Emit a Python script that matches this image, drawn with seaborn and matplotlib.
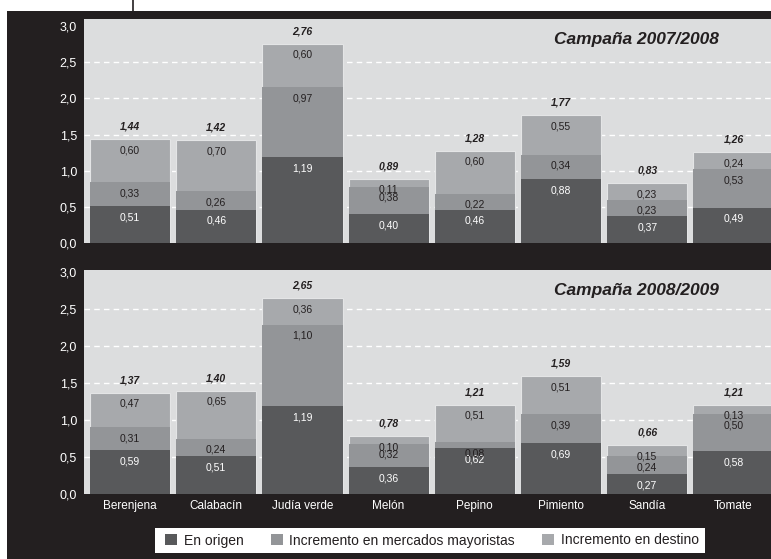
import numpy as np
import matplotlib.pyplot as plt
import seaborn as sns
from matplotlib.patches import Patch, Rectangle
from matplotlib.lines import Line2D

sns.set_theme(style="white")
plt.rcParams['font.family'] = ['Liberation Sans', 'DejaVu Sans']

# Datos (euros/kg)
productos = ['Berenjena', 'Calabacín', 'Judía verde', 'Melón',
             'Pepino', 'Pimiento', 'Sandía', 'Tomate']

origen_0708 = [0.51, 0.46, 1.19, 0.40, 0.46, 0.88, 0.37, 0.49]
mayor_0708 = [0.33, 0.26, 0.97, 0.38, 0.22, 0.34, 0.23, 0.53]
destino_0708 = [0.60, 0.70, 0.60, 0.11, 0.60, 0.55, 0.23, 0.24]
total_0708 = [1.44, 1.42, 2.76, 0.89, 1.28, 1.77, 0.83, 1.26]

origen_0809 = [0.59, 0.51, 1.19, 0.36, 0.62, 0.69, 0.27, 0.58]
mayor_0809 = [0.31, 0.24, 1.10, 0.32, 0.08, 0.39, 0.24, 0.50]
destino_0809 = [0.47, 0.65, 0.36, 0.10, 0.51, 0.51, 0.15, 0.13]
total_0809 = [1.37, 1.40, 2.65, 0.78, 1.21, 1.59, 0.66, 1.21]

series = ['En origen', 'Incremento en mercados mayoristas', 'Incremento en destino']
yticks = [0.0, 0.5, 1.0, 1.5, 2.0, 2.5, 3.0]

c_dark = '#58595b'
c_mid = '#939598'
c_light = '#a7a9ac'
c_bg = '#dcddde'
c_black = '#231f20'


def fmt(v, dec=2):
    return f"{v:.{dec}f}".replace('.', ',')


fig = plt.figure(figsize=(7.71, 5.59), dpi=100)
fig.patch.set_facecolor('white')
fig.patches.append(Rectangle((7 / 771, 0), 1, 548 / 559, transform=fig.transFigure,
                             facecolor=c_black, edgecolor='none', zorder=-10))
# caja blanca de la leyenda
fig.patches.append(Rectangle((155 / 771, 1 - 553 / 559), 550 / 771, 25 / 559,
                             transform=fig.transFigure, facecolor='white',
                             edgecolor='none', zorder=-5))
fig.add_artist(Line2D([133 / 771, 133 / 771], [548 / 559, 1], color=c_black, lw=1.2))

ax1 = fig.add_axes([84 / 771, 1 - 243 / 559, 687 / 771, 224 / 559])
ax2 = fig.add_axes([84 / 771, 1 - 494 / 559, 687 / 771, 224 / 559])


def panel(ax, origen, mayor, destino, total, titulo, ymax, show_x):
    ax.set_facecolor(c_bg)
    for y in yticks[1:-1]:
        ax.axhline(y, color='white', lw=1, ls=(0, (4, 3)), zorder=0.5)

    base = np.array(origen)
    medio = base + np.array(mayor)
    alto = medio + np.array(destino)

    sns.barplot(x=productos, y=alto, color=c_light, saturation=1, width=0.93,
                edgecolor='#e4e5e6', linewidth=0.8, ax=ax, zorder=2)
    sns.barplot(x=productos, y=medio, color=c_mid, saturation=1, width=0.93,
                linewidth=0, ax=ax, zorder=3)
    sns.barplot(x=productos, y=base, color=c_dark, saturation=1, width=0.93,
                linewidth=0, ax=ax, zorder=4)

    for i in range(len(productos)):
        ax.annotate(fmt(origen[i]), (i, base[i]), xytext=(0, -8), textcoords='offset points',
                    ha='center', va='center', color='white', fontsize=7.5, zorder=6)
        ax.annotate(fmt(mayor[i]), (i, medio[i]), xytext=(0, -8), textcoords='offset points',
                    ha='center', va='center', color=c_black, fontsize=7.5, zorder=6)
        ax.annotate(fmt(destino[i]), (i, alto[i]), xytext=(0, -8), textcoords='offset points',
                    ha='center', va='center', color=c_black, fontsize=7.5, zorder=6)
        ax.annotate(fmt(total[i]), (i, alto[i]), xytext=(0, 9), textcoords='offset points',
                    ha='center', va='center', color=c_black, fontsize=7.5,
                    fontweight='bold', fontstyle='italic', zorder=6)

    ax.text(0.924, 0.908, titulo, transform=ax.transAxes, ha='right', va='center',
            fontsize=12.5, fontweight='bold', fontstyle='italic', color=c_black)

    ax.set_ylim(0, ymax)
    ax.set_xlim(-0.534, 7.436)
    ax.set_yticks(yticks)
    ax.set_yticklabels([fmt(v, 1) for v in yticks], color='white', fontsize=9)
    ax.set_xlabel('')
    ax.set_ylabel('')
    if show_x:
        ax.set_xticks(range(len(productos)))
        ax.set_xticklabels(productos, color='white', fontsize=8.5)
    else:
        ax.set_xticklabels([])
    ax.tick_params(length=0, pad=5)
    ax.tick_params(axis='x', pad=4)
    for s in ax.spines.values():
        s.set_visible(False)


panel(ax1, origen_0708, mayor_0708, destino_0708, total_0708, 'Campaña 2007/2008', 3.1, False)
panel(ax2, origen_0809, mayor_0809, destino_0809, total_0809, 'Campaña 2008/2009', 3.03, True)

handles = [Patch(facecolor=c, edgecolor='none', label=l)
           for c, l in zip([c_dark, c_mid, c_light], series)]
leg = fig.legend(handles=handles, ncol=3, loc='center', bbox_to_anchor=(432 / 771, 1 - 540.5 / 559),
                 frameon=False, fontsize=10, handlelength=0.85, handleheight=0.85,
                 handletextpad=0.45, columnspacing=2.0)
for t in leg.get_texts():
    t.set_color(c_black)

fig.savefig('out.png', dpi=100, facecolor='white')
